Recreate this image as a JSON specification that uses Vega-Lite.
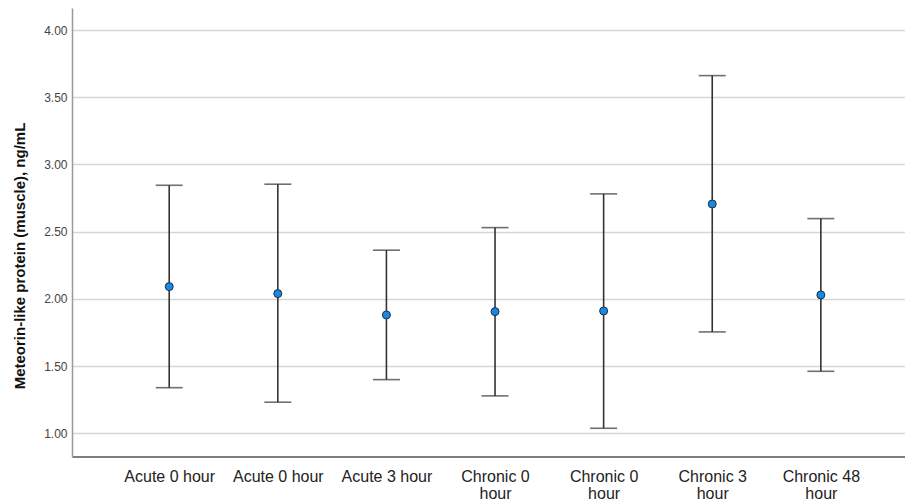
{
  "$schema": "https://vega.github.io/schema/vega-lite/v6.json",
  "autosize": {"type": "none"},
  "width": 833,
  "height": 448.5,
  "padding": {"left": 72, "top": 8, "right": 0, "bottom": 44.5},
  "background": "white",
  "config": {
    "view": {"stroke": null},
    "font": "Liberation Sans"
  },
  "data": {
    "values": [
      {"id": 1, "group": "Acute 0 hour", "mean": 2.091, "lower": 1.339, "upper": 2.845},
      {"id": 2, "group": "Acute 0 hour", "mean": 2.039, "lower": 1.231, "upper": 2.853},
      {"id": 3, "group": "Acute 3 hour", "mean": 1.880, "lower": 1.399, "upper": 2.362},
      {"id": 4, "group": "Chronic 0 hour", "mean": 1.905, "lower": 1.278, "upper": 2.530},
      {"id": 5, "group": "Chronic 0 hour", "mean": 1.910, "lower": 1.037, "upper": 2.781},
      {"id": 6, "group": "Chronic 3 hour", "mean": 2.706, "lower": 1.754, "upper": 3.661},
      {"id": 7, "group": "Chronic 48 hour", "mean": 2.029, "lower": 1.461, "upper": 2.597}
    ]
  },
  "encoding": {
    "x": {
      "field": "id",
      "type": "ordinal",
      "scale": {"type": "point", "padding": 0.835, "align": 0.536},
      "axis": {
        "title": null,
        "labelAngle": 0,
        "labelExpr": "[['Acute 0 hour'],['Acute 0 hour'],['Acute 3 hour'],['Chronic 0','hour'],['Chronic 0','hour'],['Chronic 3','hour'],['Chronic 48','hour']][toNumber(datum.value)-1]",
        "labelFontSize": 16,
        "labelLineHeight": 17,
        "labelColor": "#222222",
        "labelPadding": 12,
        "labelBaseline": "top",
        "ticks": false,
        "tickSize": 0,
        "domainColor": "#555555",
        "domainWidth": 1.5,
        "grid": false
      }
    }
  },
  "layer": [
    {
      "mark": {"type": "rule", "color": "#333333", "strokeWidth": 1.6},
      "encoding": {
        "y": {
          "field": "lower",
          "type": "quantitative",
          "scale": {"domain": [0.827, 4.164], "nice": false, "zero": false},
          "axis": {
            "title": "Meteorin-like protein (muscle), ng/mL",
            "titleFontSize": 15,
            "titleFontWeight": "bold",
            "titleColor": "#111111",
            "titleAlign": "center",
            "titleBaseline": "middle",
            "titleAngle": -90,
            "titleX": -53,
            "titleY": 247.5,
            "values": [1, 1.5, 2, 2.5, 3, 3.5, 4],
            "format": ".2f",
            "labelFontSize": 12,
            "labelColor": "#444444",
            "labelPadding": 5,
            "ticks": false,
            "tickSize": 0,
            "domainColor": "#999999",
            "domainWidth": 1.5,
            "grid": true,
            "gridColor": "#d6d6d6",
            "gridWidth": 1.6
          }
        },
        "y2": {"field": "upper"}
      }
    },
    {
      "mark": {"type": "tick", "color": "#333333", "thickness": 1.6, "size": 27, "orient": "horizontal"},
      "encoding": {"y": {"field": "lower", "type": "quantitative"}}
    },
    {
      "mark": {"type": "tick", "color": "#333333", "thickness": 1.6, "size": 27, "orient": "horizontal"},
      "encoding": {"y": {"field": "upper", "type": "quantitative"}}
    },
    {
      "mark": {"type": "point", "shape": "circle", "filled": true, "size": 64, "fill": "#1a88e0", "stroke": "#1c2e4a", "strokeWidth": 1, "opacity": 1},
      "encoding": {"y": {"field": "mean", "type": "quantitative"}}
    }
  ]
}
